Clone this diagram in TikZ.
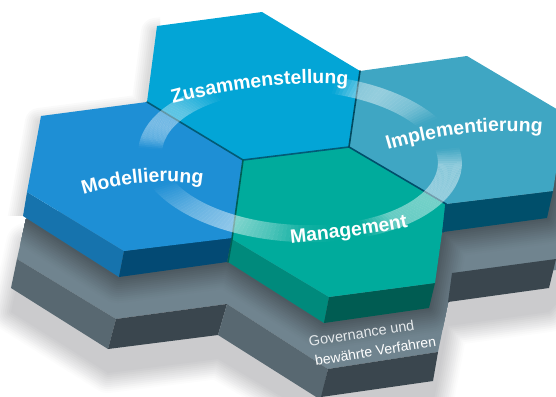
\documentclass[tikz,border=0pt]{standalone}
\usepackage{fontspec}
\setmainfont{Liberation Sans}
\usetikzlibrary{decorations.text}
\definecolor{cBlue}{HTML}{1E8FD5}
\definecolor{cBlueL}{HTML}{1673AD}
\definecolor{cBlueD}{HTML}{034A74}
\definecolor{cZus}{HTML}{03A5D6}
\definecolor{cImp}{HTML}{3FA6C3}
\definecolor{cImpD}{HTML}{004F6B}
\definecolor{cMan}{HTML}{00AB9C}
\definecolor{cManL}{HTML}{008A7C}
\definecolor{cManD}{HTML}{005C52}
\definecolor{cSurf}{HTML}{70848F}
\definecolor{cSurfD}{HTML}{4C585F}
\definecolor{cSideL}{HTML}{586871}
\definecolor{cSideD}{HTML}{3A464E}
\definecolor{cShad}{HTML}{CBCBCD}
\newcommand\hexlab{\fontsize{9.7}{11}\selectfont\bfseries}
\newcommand\silh{(41,116) -- (147,102) -- (157,26) -- (262,12) -- (360,71) -- (467,56) -- (565,114) -- (553,191) -- (547,218) -- (443,232) -- (429,308) -- (324,323) -- (228,262) -- (119,277) -- (23,216) -- cycle}
\newcommand\base{(26,219) -- (11,288) -- (108,349) -- (218,335) -- (321,396) -- (433,381) -- (448,302) -- (549,288) -- (575,260) -- (575,170) -- (300,170) -- cycle}
\newcommand\surf{(26,219) -- (17,259) -- (116,319) -- (227,304) -- (328,369) -- (438,352) -- (448,303) -- (460,285) -- (556,270) -- (556,150) -- (300,150) -- cycle}
\tikzset{
  arcText/.style={decorate,decoration={text along path,text color=white,text align=center,text={|\hexlab|#1}}},
  edgeLine/.style={line width=.8pt,line cap=round},
  govText/.style={inner sep=0pt,font=\fontsize{7.2}{8}\selectfont,rotate=9}
}
\begin{document}
\begin{tikzpicture}[x=.5pt,y=-.5pt]
  \useasboundingbox (0,0) rectangle (556,396);
  \clip (0,0) rectangle (556,396);
  % soft outer shadow: opaque strokes from pale to full shadow colour
  \foreach \w/\p in {20/6,18/14,16/24,14/34,12/44,10/54,8/64,6/74,4/83,2/92}{
    \draw[color=cShad!\p!white,line width=\w pt,line join=round,shift={(0,24)}] \base;
  }
  \fill[cShad,shift={(0,24)}] \base;
  \begin{scope}
    \clip (0,0) rectangle (160,215);
    \foreach \w/\p in {14/2,12/4,10/6,8/8,6/10,4/12,2/14}{
      \draw[color=black!\p!white,line width=\w pt,line join=round,shift={(-2,6)}] \silh;
    }
  \end{scope}
  % grey lower layers
  \fill[cSurf] \surf;
  \begin{scope}
    \clip \surf;
    \foreach \w/\p in {26/4,24/10,22/17,20/24,18/32,16/40,14/48,12/56,10/64,8/72,6/80,4/88,2/96}{
      \draw[color=cSurfD!\p!cSurf,line width=\w pt,line join=round] \silh;
    }
  \end{scope}
  \fill[cSideL] (17,259) -- (116,319) -- (108,349) -- (11,288) -- cycle;
  \fill[cSideD] (116,319) -- (227,304) -- (218,335) -- (108,349) -- cycle;
  \fill[cSideL] (227,304) -- (328,369) -- (321,400) -- (218,335) -- cycle;
  \fill[cSideD] (328,369) -- (438,352) -- (433,381) -- (321,397) -- cycle;
  \fill[cSideD] (452,273) -- (556,259) -- (549,288) -- (448,302) -- cycle;
  % hexagon side faces
  \fill[cBlueL] (27,192) -- (124,251) -- (119,277) -- (23,216) -- cycle;
  \fill[cBlueD] (124,251) -- (232,237) -- (227,262) -- (119,277) -- cycle;
  \fill[cImpD] (446,204) -- (553,191) -- (547,218) -- (443,232) -- cycle;
  \fill[cManL] (232,239) -- (329,297) -- (324,323) -- (228,262) -- cycle;
  \fill[cManD] (329,297) -- (435,283) -- (429,308) -- (324,323) -- cycle;
  % hexagon top faces
  \fill[cBlue] (41,116) -- (147,102) -- (243,160) -- (232,238) -- (124,251) -- (27,192) -- cycle;
  \fill[cImp] (360,71) -- (467,56) -- (565,114) -- (553,191) -- (446,204) -- (349,147) -- cycle;
  \fill[cZus] (157,26) -- (262,12) -- (360,71) -- (349,147) -- (243,160) -- (147,102) -- cycle;
  \fill[cMan] (243,160) -- (349,147) -- (446,204) -- (435,283) -- (329,297) -- (232,239) -- cycle;
  % dark seams
  \draw[edgeLine,color=cZus!55!black] (147,102) -- (243,160) -- (349,147);
  \draw[edgeLine,color=cZus!45!black] (349,147) -- (360,71);
  \draw[edgeLine,color=cImpD] (349,147) -- (446,204) -- (443,232);
  \draw[edgeLine,color=cMan!55!black] (243,160) -- (232,239) -- (228,262);
  % translucent ring, built from short pieces of varying opacity
  \foreach \ta/\tb/\oa/\ob in {-65/-50/0/.4,-50/-30/.4/.45,-30/0/.45/.42,0/12/.42/0,33/45/0/.3,45/60/.3/.45,60/68/.45/.4,68/78/.4/0,125/145/0/.35,145/160/.35/.4,160/170/.4/.3,170/178/.3/0,205/225/0/.3,225/245/.3/.5,245/260/.5/.3,260/272/.3/.08,272/285/.08/0}{
    \pgfmathsetmacro\n{int(ceil((\tb-\ta)/1.5))}
    \foreach \k in {1,...,\n}{
      \pgfmathsetmacro\sa{\ta+(\k-1)*(\tb-\ta)/\n}
      \pgfmathsetmacro\sb{\ta+\k*(\tb-\ta)/\n}
      \pgfmathsetmacro\op{\oa+(\ob-\oa)*(\k-.5)/\n}
      \fill[white,opacity=\op]
        ({300+162*cos(\sa)*.999+84*sin(\sa)*.0436},{158+162*cos(\sa)*.0436-84*sin(\sa)*.999}) --
        ({300+162*cos(\sb)*.999+84*sin(\sb)*.0436},{158+162*cos(\sb)*.0436-84*sin(\sb)*.999}) --
        ({300+138*cos(\sb)*.999+67*sin(\sb)*.0436},{158+138*cos(\sb)*.0436-67*sin(\sb)*.999}) --
        ({300+138*cos(\sa)*.999+67*sin(\sa)*.0436},{158+138*cos(\sa)*.0436-67*sin(\sa)*.999}) -- cycle;
    }
  }
  % labels
  \path[arcText=Modellierung] (81,195) .. controls (120,183) and (165,178) .. (205,185);
  \path[arcText=Zusammenstellung] (172,104) .. controls (225,90) and (290,80) .. (349,85);
  \path[arcText=Implementierung] (387,150) .. controls (435,136) and (490,127) .. (543,133);
  \path[arcText=Management] (291,243) .. controls (330,239) and (370,235) .. (408,227);
  \node[govText,text=white!82!cSurf] (gov1) at (361.5,333) {Governance und};
  \node[govText,text=white,font=\fontsize{7}{8}\selectfont] (gov2) at (375.5,351) {bewährte Verfahren};
\end{tikzpicture}
\end{document}
